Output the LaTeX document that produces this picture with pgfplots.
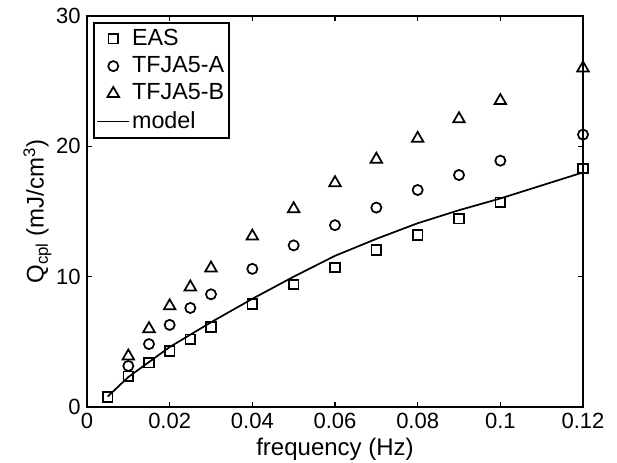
\documentclass[border=0pt]{standalone}
\usepackage{fontspec}
\setmainfont{Liberation Sans}
\usepackage{pgfplots}
\pgfplotsset{compat=1.18}
\pgfplotsset{
  marklegend/.style={legend image code/.code={%
    \draw[mark repeat=2,mark phase=2,##1,line width=1.3pt] plot coordinates {(0cm,0cm) (0.42cm,0cm) (0.84cm,0cm)};}},
  linelegend/.style={legend image code/.code={%
    \draw[##1,line width=1.3pt] (0cm,0cm) -- (0.84cm,0cm);}},
}
\begin{document}
\fontsize{17}{20}\selectfont
\begin{tikzpicture}
\useasboundingbox (-65.25pt,-41.25pt) rectangle (397.5pt,305.25pt);
\begin{axis}[
  at={(0,0)}, anchor=south west,
  scale only axis, width=372pt, height=293.25pt,
  xmin=0, xmax=0.12, ymin=0, ymax=30,
  xtick={0,0.02,0.04,0.06,0.08,0.1,0.12},
  xticklabels={0,0.02,0.04,0.06,0.08,0.1,0.12},
  ytick={0,10,20,30},
  yticklabels={0,10,20,30},
  tick align=inside,
  major tick length=4pt,
  axis line style={line width=1.3pt},
  every tick/.style={line width=1pt, black},
  tick label style={font=\fontsize{16.5}{19}\selectfont},
  xticklabel style={yshift=1pt},
  yticklabel style={xshift=1pt},
  label style={font=\fontsize{18}{21}\selectfont},
  /pgf/number format/assume math mode=true,
  xlabel={frequency (Hz)},
  ylabel={Q\textsubscript{cpl} (mJ/cm\textsuperscript{3})},
  xlabel style={yshift=5pt},
  ylabel style={yshift=-8pt},
  legend style={at={(axis description cs:0.012,0.985)}, anchor=north west,
    draw=black, line width=1.3pt, font=\fontsize{17.5}{21}\selectfont,
    inner xsep=2pt, inner ysep=3pt, row sep=3pt, legend cell align=left,
    nodes={inner sep=1.5pt}},
]
\addplot[only marks, mark=square, mark size=3.6pt, line width=1.3pt, marklegend] coordinates {
 (0.005,0.77) (0.01,2.35) (0.015,3.4) (0.02,4.3) (0.025,5.2) (0.03,6.15)
 (0.04,7.9) (0.05,9.4) (0.06,10.7) (0.07,12.05) (0.08,13.2) (0.09,14.45)
 (0.1,15.7) (0.12,18.3)};
\addlegendentry{EAS}
\addplot[only marks, mark=o, mark size=3.8pt, line width=1.3pt, marklegend] coordinates {
 (0.01,3.15) (0.015,4.83) (0.02,6.3) (0.025,7.6) (0.03,8.65) (0.04,10.6)
 (0.05,12.4) (0.06,13.95) (0.07,15.3) (0.08,16.65) (0.09,17.8) (0.1,18.9)
 (0.12,20.9)};
\addlegendentry{TFJA5-A}
\addplot[only marks, mark=triangle, mark size=5pt, line width=1.3pt, marklegend] coordinates {
 (0.01,3.9) (0.015,6.0) (0.02,7.75) (0.025,9.2) (0.03,10.65) (0.04,13.1)
 (0.05,15.2) (0.06,17.2) (0.07,19.0) (0.08,20.6) (0.09,22.1) (0.1,23.5)
 (0.12,26.0)};
\addlegendentry{TFJA5-B}
\addplot[black, line width=1.3pt, no marks, linelegend] coordinates {
 (0.005,0.8) (0.01,2.3) (0.02,4.6) (0.03,6.5) (0.04,8.3) (0.05,10.0)
 (0.06,11.6) (0.07,12.9) (0.08,14.1) (0.09,15.1) (0.1,16.0) (0.11,17.0)
 (0.12,18.0)};
\addlegendentry{model}
\end{axis}
\end{tikzpicture}
\end{document}
